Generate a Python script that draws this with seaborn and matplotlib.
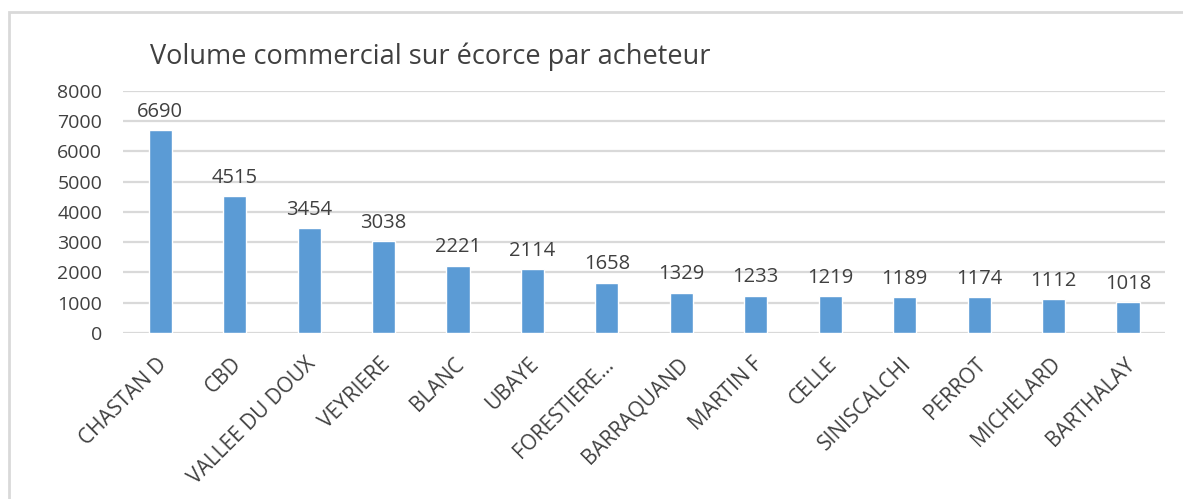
import matplotlib
matplotlib.use("Agg")
import matplotlib.pyplot as plt
import seaborn as sns
import pandas as pd
from matplotlib.patches import Rectangle
from matplotlib.transforms import ScaledTranslation

buyers = ["CHASTAN D", "CBD", "VALLEE DU DOUX", "VEYRIERE", "BLANC", "UBAYE",
          "FORESTIERE...", "BARRAQUAND", "MARTIN F", "CELLE", "SINISCALCHI",
          "PERROT", "MICHELARD", "BARTHALAY"]
volumes = [6690, 4515, 3454, 3038, 2221, 2114, 1658, 1329, 1233, 1219, 1189,
           1174, 1112, 1018]
title = "Volume commercial sur écorce par acheteur"
yticks = [0, 1000, 2000, 3000, 4000, 5000, 6000, 7000, 8000]

sns.set_style("white")
plt.rcParams["font.family"] = ["Open Sans", "DejaVu Sans"]

df = pd.DataFrame({"buyer": buyers, "volume": volumes})

fig = plt.figure(figsize=(11.83, 4.99), dpi=100)
ax = fig.add_axes([0.104, 0.333, 0.881, 0.485])

sns.barplot(data=df, x="buyer", y="volume", color="#5B9BD5", saturation=1,
            width=0.31, ax=ax, zorder=3)

ax.set_ylim(0, 8000)
ax.set_yticks(yticks)
ax.set_yticklabels([str(t) for t in yticks], fontsize=14, color="#404040")
ax.yaxis.grid(True, color="#D9D9D9", linewidth=1.6, zorder=0)
ax.set_axisbelow(True)
for s in ax.spines.values():
    s.set_visible(False)
ax.tick_params(axis="both", length=0)
ax.tick_params(axis="y", pad=15)
ax.set_xlabel("")
ax.set_ylabel("")
ax.set_xlim(-0.5, len(buyers) - 0.5)

ax.set_xticks(range(len(buyers)))
ax.set_xticklabels(buyers, rotation=45, ha="right", rotation_mode="anchor",
                   fontsize=15, color="#404040")
offset = ScaledTranslation(-0.04, -0.16, fig.dpi_scale_trans)
for lab in ax.get_xticklabels():
    lab.set_transform(lab.get_transform() + offset)

for i, v in enumerate(volumes):
    ax.annotate(str(v), (i, v), xytext=(0, 6), textcoords="offset points",
                ha="center", va="bottom", fontsize=14.5, color="#404040")

fig.text(150 / 1183, 1 - 57 / 499, title, fontsize=19.5, color="#404040",
         ha="left", va="center")

fig.patches.append(Rectangle((9 / 1183, -0.1), 1.2, 1 - 12 / 499 + 0.1,
                             transform=fig.transFigure, fill=False,
                             edgecolor="#D9D9D9", linewidth=2))

fig.savefig("out.png", dpi=100, facecolor="white")
